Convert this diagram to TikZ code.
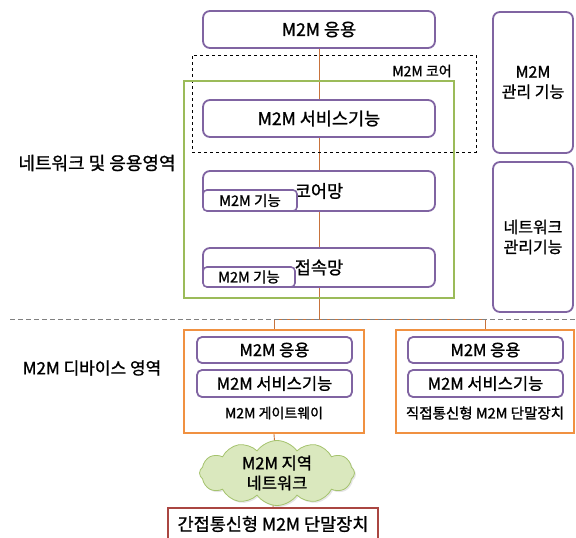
\documentclass[tikz,border=0pt]{standalone}
\usepackage{fontspec}
\setmainfont{Noto Sans CJK KR}[FakeBold=1.2]
\usetikzlibrary{shapes.symbols,shadows}
\pgfdeclarelayer{background}
\pgfsetlayers{background,main}
\definecolor{purp}{RGB}{128,100,162}
\definecolor{grn}{RGB}{155,187,89}
\definecolor{org}{RGB}{240,145,65}
\definecolor{lineC}{RGB}{200,115,60}
\definecolor{redb}{RGB}{170,70,65}
\definecolor{cloudF}{RGB}{218,232,190}
\definecolor{cloudD}{RGB}{165,195,110}
\tikzset{
  pbox/.style={draw=purp, line width=1.8pt, rounded corners=7pt, fill=white, inner sep=0pt, font=\fontsize{17.5}{19}\selectfont},
  sbox/.style={draw=purp, line width=1.6pt, rounded corners=4pt, fill=white, inner sep=0pt, font=\fontsize{14.5}{16}\selectfont},
  dbox/.style={pbox, rounded corners=5pt, font=\fontsize{16.5}{18}\selectfont},
  gframe/.style={draw=grn, line width=2pt, inner sep=0pt},
  oframe/.style={draw=org, line width=2.4pt, inner sep=0pt},
  coreframe/.style={draw=black, dashed, line width=0.7pt, inner sep=0pt},
  conn/.style={draw=lineC, line width=0.9pt},
  lbl/.style={font=\fontsize{18}{20}\selectfont, inner sep=0pt},
  smlbl/.style={font=\fontsize{14}{16}\selectfont, inner sep=0pt},
}
\begin{document}
\begin{tikzpicture}[x=1pt,y=-1pt]
\useasboundingbox (0,0) rectangle (576,538);
% core dashed frame
\node[coreframe, minimum width=284pt, minimum height=97pt] (core) at (334,103.5) {};
\node[smlbl] (corelbl) at (422,71) {M2M 코어};
% green frame
\node[gframe, minimum width=270pt, minimum height=217pt] (green) at (319,189.5) {};
% network domain boxes
\node[pbox, minimum width=232pt, minimum height=37pt] (app) at (319,29.5) {M2M 응용};
\node[pbox, minimum width=232pt, minimum height=37pt] (svc) at (319,118.5) {M2M 서비스기능};
\node[pbox, minimum width=232pt, minimum height=40pt] (cn) at (319,191) {코어망};
\node[sbox, minimum width=94pt, minimum height=21pt] (cnf) at (250,200.5) {M2M 기능};
\node[pbox, minimum width=232pt, minimum height=39pt] (an) at (319,267.5) {접속망};
\node[sbox, minimum width=92pt, minimum height=20pt] (anf) at (249,277) {M2M 기능};
% management
\node[pbox, minimum width=80pt, minimum height=141pt, align=center, font=\fontsize{16}{20}\selectfont] (mg1) at (533,82.5) {M2M\\관리 기능};
\node[pbox, minimum width=80pt, minimum height=150pt, align=center, font=\fontsize{16}{20}\selectfont] (mg2) at (533,237) {네트워크\\관리기능};
% side labels
\node[lbl] (lblnet) at (97,163) {네트워크 및 응용영역};
\node[lbl, font=\fontsize{17}{19}\selectfont] (lbldev) at (92,368) {M2M 디바이스 영역};
% separator
\coordinate (sepL) at (10,319);
\coordinate (sepR) at (576,319);
\draw[gray, line width=0.9pt, dash pattern=on 5pt off 3pt] (sepL) -- (sepR);
% gateway
\node[oframe, minimum width=180pt, minimum height=103pt] (gw) at (274,381.5) {};
\node[dbox, minimum width=155pt, minimum height=26pt] (gwapp) at (274.5,350) {M2M 응용};
\node[dbox, minimum width=155pt, minimum height=27pt] (gwsvc) at (274.5,383.5) {M2M 서비스기능};
\node[smlbl] (gwlbl) at (274,413) {M2M 게이트웨이};
% direct device
\node[oframe, minimum width=178pt, minimum height=103pt] (dev) at (485,381.5) {};
\node[dbox, minimum width=155pt, minimum height=26pt] (devapp) at (485.5,350) {M2M 응용};
\node[dbox, minimum width=155pt, minimum height=27pt] (devsvc) at (485.5,383.5) {M2M 서비스기능};
\node[smlbl, font=\fontsize{14.5}{16}\selectfont] (devlbl) at (485,413) {직접통신형 M2M 단말장치};
% cloud
\node[cloud, cloud puffs=12, cloud puff arc=110, aspect=2.6, draw=cloudD, fill=cloudF, line width=0.8pt,
      minimum width=155pt, minimum height=58pt, inner sep=0pt, align=center,
      drop shadow={shadow xshift=1.5pt, shadow yshift=-1.5pt, fill=gray!40},
      font=\fontsize{16.5}{20}\selectfont] (cloud) at (277,473) {M2M 지역\\네트워크};
% bottom device
\node[draw=redb, line width=2.2pt, fill=white, minimum width=210pt, minimum height=32pt, inner sep=0pt,
      font=\fontsize{17.5}{19}\selectfont] (indev) at (273,524) {간접통신형 M2M 단말장치};
% connectors
\coordinate (hub) at (319,319);
\begin{pgfonlayer}{background}
\draw[conn] (app.south) -- (hub);
\draw[conn] (gw.north) |- (hub);
\draw[conn] (dev.north) |- (hub);
\draw[conn] (gw.south) -- (cloud.center);
\draw[conn] (cloud.center) -- (indev.north);
\end{pgfonlayer}
\end{tikzpicture}
\end{document}
